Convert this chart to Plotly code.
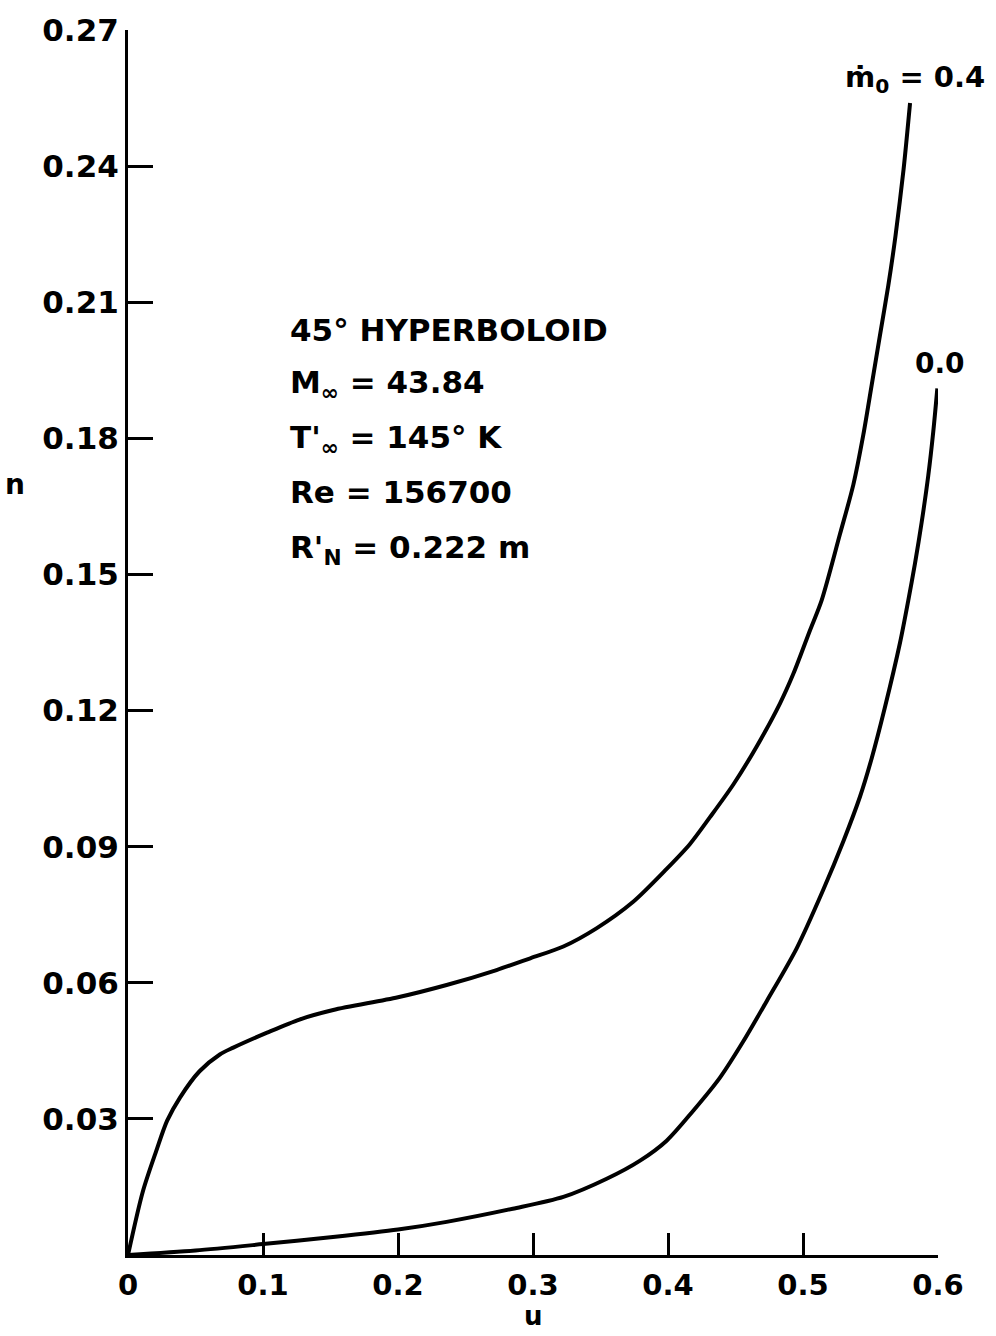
import plotly.graph_objects as go

# m0 = 0.4 curve
u_04 = [0, 0.011, 0.021, 0.029, 0.0385, 0.053, 0.068, 0.078, 0.103, 0.127, 0.152, 0.20,
        0.236, 0.273, 0.298, 0.3225, 0.347, 0.374, 0.399, 0.4163, 0.4311, 0.4484, 0.4657, 0.483, 0.493,
        0.5052, 0.5138, 0.5274, 0.5373, 0.5447, 0.5509, 0.557, 0.5632, 0.5685, 0.5745, 0.5793]
n_04 = [0, 0.014, 0.023, 0.0296, 0.0347, 0.0405, 0.0442, 0.0457, 0.049, 0.0519, 0.054, 0.0568,
        0.0595, 0.0628, 0.0654, 0.068, 0.072, 0.0778, 0.0851, 0.0906, 0.0965, 0.1037, 0.1121, 0.1216, 0.1282,
        0.1377, 0.1443, 0.1589, 0.1698, 0.1808, 0.1918, 0.2027, 0.2137, 0.2246, 0.2393, 0.2539]

# m0 = 0.0 curve
u_00 = [0, 0.05, 0.1, 0.15, 0.2, 0.236, 0.285, 0.3225, 0.3546, 0.3793, 0.399, 0.4187, 0.4385,
        0.4558, 0.473, 0.4953, 0.515, 0.5299, 0.5422, 0.5509, 0.5605, 0.5719, 0.578, 0.583, 0.5879,
        0.5928, 0.5965, 0.5995]
n_00 = [0, 0.001, 0.0024, 0.0039, 0.0056, 0.0073, 0.0102, 0.0128, 0.0168, 0.0208, 0.0252, 0.0318,
        0.0391, 0.0471, 0.0559, 0.0676, 0.0805, 0.0912, 0.1010, 0.1095, 0.1205, 0.1350, 0.1443, 0.1525,
        0.1615, 0.1718, 0.1815, 0.191]

x_ticks = [0, 0.1, 0.2, 0.3, 0.4, 0.5, 0.6]
x_tick_text = ["0", "0.1", "0.2", "0.3", "0.4", "0.5", "0.6"]
y_ticks = [0.03, 0.06, 0.09, 0.12, 0.15, 0.18, 0.21, 0.24, 0.27]
y_tick_text = ["0.03", "0.06", "0.09", "0.12", "0.15", "0.18", "0.21", "0.24", "0.27"]

info_lines = ["45° HYPERBOLOID", "M<sub>∞</sub> = 43.84", "T'<sub>∞</sub> = 145° K",
              "Re = 156700", "R'<sub>N</sub> = 0.222 m"]
info_y = [0.2038, 0.1918, 0.1797, 0.1681, 0.1556]

FONT = "DejaVu Sans, Verdana, sans-serif"

fig = go.Figure()
for u, n in [(u_04, n_04), (u_00, n_00)]:
    fig.add_trace(go.Scatter(x=u, y=n, mode="lines",
                             line=dict(color="black", width=4, shape="spline", smoothing=0.8),
                             showlegend=False, hoverinfo="skip"))

annotations = []
for txt, yv in zip(info_lines, info_y):
    annotations.append(dict(x=0.1185, y=yv, xref="x", yref="y", text="<b>" + txt + "</b>", showarrow=False,
                            xanchor="left", yanchor="middle", font=dict(size=31, color="black", family=FONT)))
annotations.append(dict(x=0.583, y=0.2545, xref="x", yref="y", text="<b>ṁ<sub>0</sub> = 0.4</b>", showarrow=False,
                        xanchor="center", yanchor="bottom", font=dict(size=29, color="black", family=FONT)))
annotations.append(dict(x=0.5995, y=0.1925, xref="x", yref="y", xshift=3, text="<b>0.0</b>", showarrow=False,
                        xanchor="center", yanchor="bottom", font=dict(size=28, color="black", family=FONT)))
annotations.append(dict(x=-0.1395, y=0.629, xref="paper", yref="paper", text="<b>n</b>", showarrow=False,
                        xanchor="center", yanchor="middle", font=dict(size=28, color="black", family=FONT)))
annotations.append(dict(x=0.5, y=-0.0638, xref="paper", yref="paper", text="<b>u</b>", showarrow=False,
                        xanchor="center", yanchor="bottom", font=dict(size=26, color="black", family=FONT)))

fig.update_layout(
    width=996, height=1336,
    margin=dict(l=128, r=58, t=23, b=81),
    paper_bgcolor="white", plot_bgcolor="white",
    annotations=annotations,
    xaxis=dict(range=[0, 0.6], tickvals=x_ticks, ticktext=["<b>%s</b>" % t for t in x_tick_text],
               showgrid=False, zeroline=False, showline=True, linecolor="black", linewidth=3,
               ticks="inside", ticklen=22, tickwidth=2.5, tickcolor="black", ticklabelstandoff=2,
               tickfont=dict(size=29, color="black", family=FONT)),
    yaxis=dict(range=[0, 0.27], tickvals=y_ticks, ticktext=["<b>%s</b>" % t for t in y_tick_text],
               showgrid=False, zeroline=False, showline=True, linecolor="black", linewidth=3,
               ticks="inside", ticklen=25, tickwidth=2.5, tickcolor="black",
               tickfont=dict(size=31, color="black", family=FONT)),
)

fig.write_html("out.html")
